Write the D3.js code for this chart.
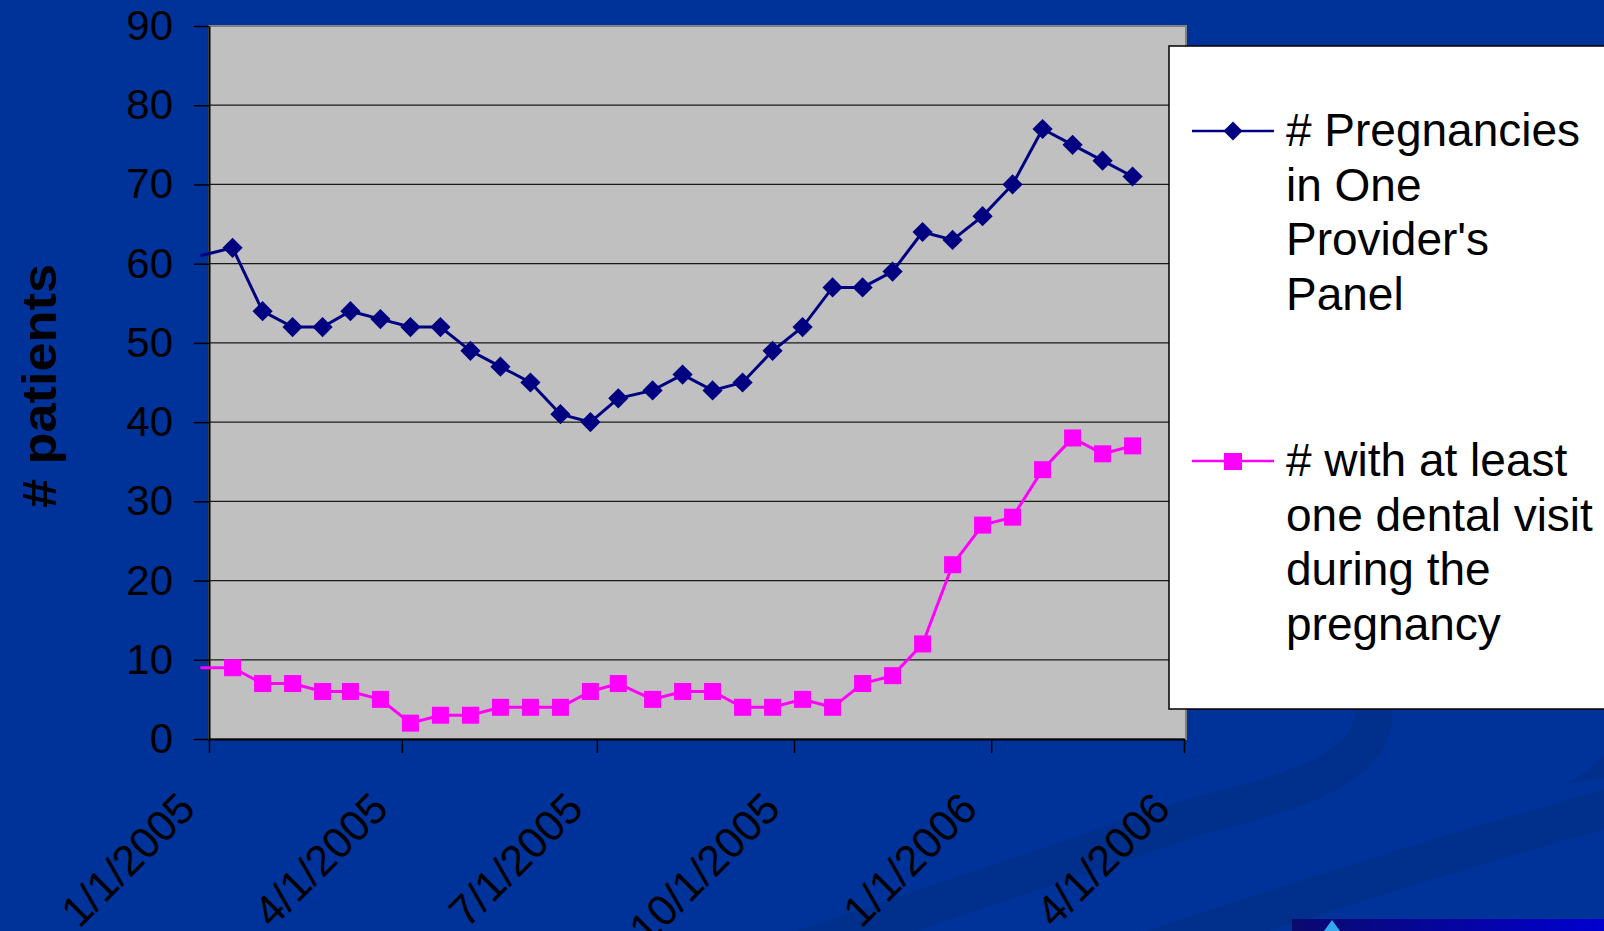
<!DOCTYPE html>
<html>
<head>
<meta charset="utf-8">
<title># patients</title>
<script src="https://cdn.jsdelivr.net/npm/d3@7"></script>
<style>
  html, body { margin: 0; padding: 0; background: #003399; overflow: hidden; }
  svg { display: block; font-family: "Liberation Sans", Arial, sans-serif; }
</style>
</head>
<body>
<div id="chart"></div>
<script>
// data: roughly biweekly counts, first entry is the point just before the axis start
var dates = ["2004-12-28",
  "2005-01-12","2005-01-26","2005-02-09","2005-02-23","2005-03-08","2005-03-22","2005-04-05","2005-04-19",
  "2005-05-03","2005-05-17","2005-05-31","2005-06-14","2005-06-28","2005-07-11","2005-07-27","2005-08-10",
  "2005-08-24","2005-09-07","2005-09-21","2005-10-05","2005-10-19","2005-11-02","2005-11-16","2005-11-30",
  "2005-12-14","2005-12-28","2006-01-11","2006-01-25","2006-02-08","2006-02-22","2006-03-08"];
var pregnancies = [61,
  62,54,52,52,54,53,52,52,49,47,45,41,40,43,44,46,44,45,49,52,57,57,59,64,63,66,70,77,75,73,71];
var dental = [9,
  9,7,7,6,6,5,2,3,3,4,4,4,6,7,5,6,6,4,4,5,4,7,8,12,22,27,28,34,38,36,37];
var xTicks = ["2005-01-01","2005-04-01","2005-07-01","2005-10-01","2006-01-01","2006-04-01"];
var yTicks = [0,10,20,30,40,50,60,70,80,90];
var legendPreg = ["# Pregnancies", "in One", "Provider's", "Panel"];
var legendDental = ["# with at least", "one dental visit", "during the", "pregnancy"];

var W = 1604, H = 931;
var parse = d3.timeParse("%Y-%m-%d");
var plotL = 209, plotR = 1184, plotT = 26, plotB = 739;

var svg = d3.select("#chart").append("svg")
  .attr("width", W).attr("height", H);

// background swooshes
svg.append("rect").attr("width", W).attr("height", H).attr("fill", "#003399");
var swoosh = "#002f8c";
svg.append("path")
  .attr("d", "M1372,700 C1385,760 1310,790 1200,815 L800,950")
  .attr("fill", "none").attr("stroke", swoosh).attr("stroke-width", 38);
svg.append("path")
  .attr("d", "M1620,805 Q1420,860 1150,950")
  .attr("fill", "none").attr("stroke", swoosh).attr("stroke-width", 38);
svg.append("path")
  .attr("d", "M1604,755 Q1590,770 1568,783 L1604,778 Z")
  .attr("fill", swoosh);

// logo strip bottom right
var grad = svg.append("defs").append("linearGradient").attr("id", "logoGrad");
grad.append("stop").attr("offset", "0%").attr("stop-color", "#0a0a6e");
grad.append("stop").attr("offset", "100%").attr("stop-color", "#0000d0");
svg.append("rect").attr("x", 1292).attr("y", 919).attr("width", 312).attr("height", 12)
  .attr("fill", "url(#logoGrad)");
svg.append("path").attr("d", "M1324,931 L1332,920 L1340,931 Z").attr("fill", "#33aaee");

var x = d3.scaleTime()
  .domain([parse(xTicks[0]), parse(xTicks[xTicks.length - 1])])
  .range([plotL, plotR]);
var y = d3.scaleLinear().domain([0, 90]).range([plotB, plotT]);

// plot area
svg.append("rect")
  .attr("x", plotL).attr("y", plotT).attr("width", plotR - plotL + 2).attr("height", plotB - plotT)
  .attr("fill", "#c0c0c0").attr("stroke", "#808080").attr("stroke-width", 2);

// gridlines
svg.append("g").selectAll("line")
  .data(yTicks.slice(1, -1))
  .enter().append("line")
    .attr("x1", plotL).attr("x2", plotR + 2)
    .attr("y1", function(d) { return y(d); })
    .attr("y2", function(d) { return y(d); })
    .attr("stroke", "#1a1a1a").attr("stroke-width", 1.3);

// y axis
var yAxis = svg.append("g")
  .attr("transform", "translate(" + plotL + ",0)")
  .call(d3.axisLeft(y).tickValues(yTicks).tickSize(15).tickSizeOuter(0).tickPadding(21));
yAxis.selectAll("text").style("font-size", "42px").attr("fill", "#000");
yAxis.selectAll("line").attr("stroke", "#000").attr("stroke-width", 1.5);
yAxis.select(".domain").attr("stroke", "#000").attr("stroke-width", 2);

// x axis
var xAxis = svg.append("g")
  .attr("transform", "translate(0," + plotB + ")")
  .call(d3.axisBottom(x)
    .tickValues(xTicks.map(parse))
    .tickSize(14).tickSizeOuter(0)
    .tickFormat(d3.timeFormat("%-m/%-d/%Y")));
xAxis.selectAll("line").attr("stroke", "#000").attr("stroke-width", 1.5);
xAxis.select(".domain").attr("stroke", "#000").attr("stroke-width", 2);
xAxis.selectAll("text")
  .style("font-size", "43px").attr("fill", "#000")
  .attr("y", 0).attr("dy", null)
  .attr("text-anchor", "end")
  .attr("transform", "translate(-12,72) rotate(-45)");

// axis title
svg.append("text")
  .attr("transform", "translate(56,386) rotate(-90)")
  .attr("text-anchor", "middle")
  .attr("textLength", 244).attr("lengthAdjust", "spacingAndGlyphs")
  .style("font-size", "48px").style("font-weight", "bold")
  .text("# patients");

// series
var rows = dates.map(function(d, i) {
  return { date: parse(d), preg: pregnancies[i], dent: dental[i] };
});
var shown = rows.slice(1);

var lineP = d3.line().x(function(d) { return x(d.date); }).y(function(d) { return y(d.preg); });
var lineD = d3.line().x(function(d) { return x(d.date); }).y(function(d) { return y(d.dent); });

svg.append("path").datum(rows).attr("d", lineP)
  .attr("fill", "none").attr("stroke", "#000080").attr("stroke-width", 3);
svg.append("path").datum(rows).attr("d", lineD)
  .attr("fill", "none").attr("stroke", "#ff00ff").attr("stroke-width", 3);

var diamond = d3.symbol().type(d3.symbolDiamond2).size(260);
svg.append("g").selectAll("path")
  .data(shown).enter().append("path")
    .attr("d", diamond)
    .attr("transform", function(d) { return "translate(" + x(d.date) + "," + y(d.preg) + ")"; })
    .attr("fill", "#000080");

svg.append("g").selectAll("rect")
  .data(shown).enter().append("rect")
    .attr("x", function(d) { return x(d.date) - 8.5; })
    .attr("y", function(d) { return y(d.dent) - 8.5; })
    .attr("width", 17).attr("height", 17)
    .attr("fill", "#ff00ff");

// legend
svg.append("rect")
  .attr("x", 1169).attr("y", 46).attr("width", 460).attr("height", 663)
  .attr("fill", "#fff").attr("stroke", "#000").attr("stroke-width", 1.5);

function legendEntry(yLine, color, lines, marker) {
  var g = svg.append("g");
  g.append("line").attr("x1", 1192).attr("x2", 1274).attr("y1", yLine).attr("y2", yLine)
    .attr("stroke", color).attr("stroke-width", 2.5);
  if (marker === "diamond") {
    g.append("path").attr("d", d3.symbol().type(d3.symbolDiamond2).size(230))
      .attr("transform", "translate(1233," + yLine + ")").attr("fill", color);
  } else {
    g.append("rect").attr("x", 1224).attr("y", yLine - 8).attr("width", 18).attr("height", 17)
      .attr("fill", color);
  }
  g.selectAll("text").data(lines).enter().append("text")
    .attr("x", 1286)
    .attr("y", function(d, i) { return yLine + 15 + i * 54.7; })
    .style("font-size", "46px")
    .text(function(d) { return d; });
}
legendEntry(131, "#000080", legendPreg, "diamond");
legendEntry(461, "#ff00ff", legendDental, "square");
</script>
</body>
</html>
